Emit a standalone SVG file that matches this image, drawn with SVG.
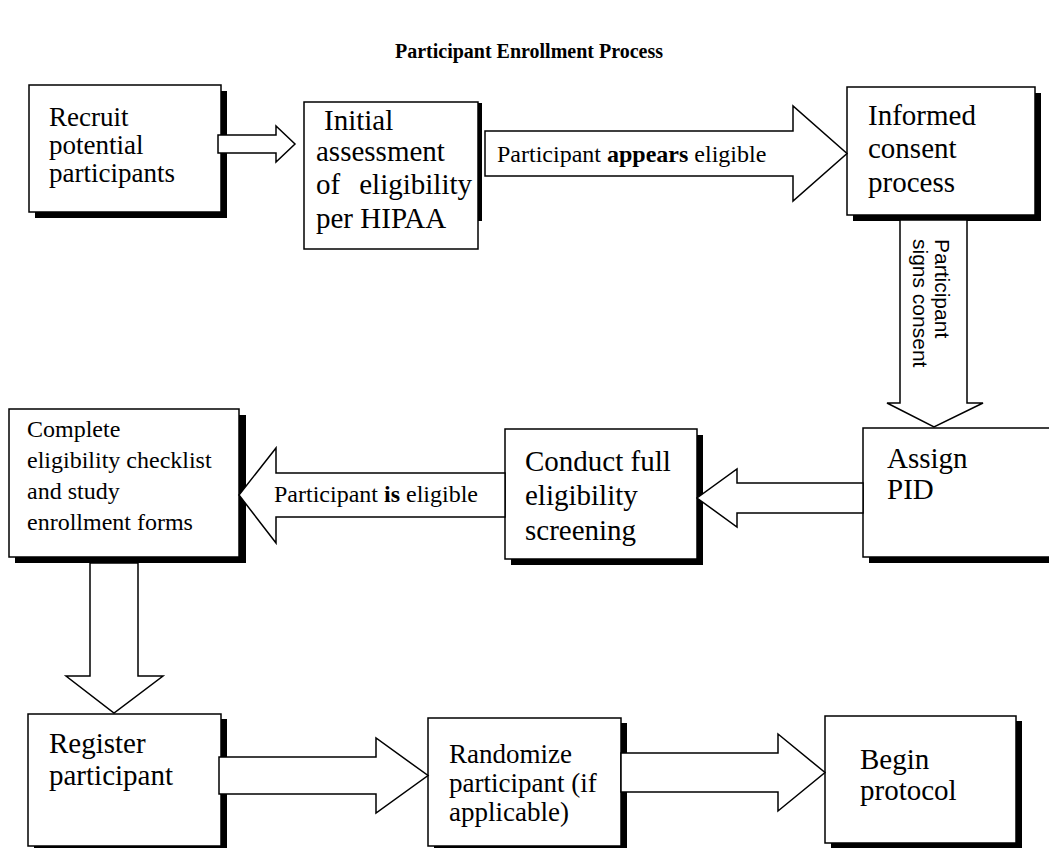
<svg xmlns="http://www.w3.org/2000/svg" width="1049" height="848" viewBox="0 0 1049 848">
<style>
.bg{fill:#fff}
.box{fill:#fff;stroke:#000;stroke-width:1.5}
.sh{fill:#000}
.arr{fill:#fff;stroke:#000;stroke-width:1.5;stroke-linejoin:miter}
.t{font-family:"Liberation Serif","Times New Roman",serif;font-size:29px;fill:#000}
.t28{font-size:27px}
.ts{font-family:"Liberation Serif","Times New Roman",serif;font-size:24px;fill:#000}
.lbl{font-family:"Liberation Serif","Times New Roman",serif;font-size:24px;fill:#000}
.vl{font-family:"Liberation Sans",Arial,sans-serif;font-size:21px;fill:#000}
.title{font-family:"Liberation Serif","Times New Roman",serif;font-size:20px;font-weight:bold;fill:#000}
.b{font-weight:bold}
</style>
<rect class="bg" x="0" y="0" width="1049" height="848"/>
<text class="title" x="529" y="58" text-anchor="middle">Participant Enrollment Process</text>

<g id="recruit">
<rect class="sh" x="35" y="91" width="192" height="127"/>
<rect class="box" x="29" y="85" width="192" height="127"/>
<text class="t t28" x="49" y="126">Recruit</text>
<text class="t t28" x="49" y="154">potential</text>
<text class="t t28" x="49" y="182">participants</text>
</g>

<g id="initial">
<rect class="sh" x="478" y="103" width="4" height="118"/>
<rect class="box" x="304" y="102" width="174" height="147"/>
<text class="t" x="324" y="130">Initial</text>
<text class="t" x="316" y="161">assessment</text>
<text class="t" x="316" y="194">of</text>
<text class="t" x="472" y="194" text-anchor="end">eligibility</text>
<text class="t" x="316" y="228">per HIPAA</text>
</g>

<g id="consent">
<rect class="sh" x="853" y="93" width="188" height="128"/>
<rect class="box" x="847" y="87" width="188" height="128"/>
<text class="t" x="868" y="125">Informed</text>
<text class="t" x="868" y="158">consent</text>
<text class="t" x="868" y="192">process</text>
</g>

<g id="assign">
<rect class="sh" x="869" y="434" width="200" height="129"/>
<rect class="box" x="863" y="428" width="200" height="129"/>
<text class="t" x="887" y="468">Assign</text>
<text class="t" x="887" y="499">PID</text>
</g>

<g id="conduct">
<rect class="sh" x="511" y="435" width="192" height="130"/>
<rect class="box" x="505" y="429" width="192" height="130"/>
<text class="t" x="525" y="471">Conduct full</text>
<text class="t" x="525" y="505">eligibility</text>
<text class="t" x="525" y="540">screening</text>
</g>

<g id="complete">
<rect class="sh" x="15" y="415" width="231" height="148"/>
<rect class="box" x="9" y="409" width="230" height="148"/>
<text class="ts" x="27" y="437">Complete</text>
<text class="ts" x="27" y="468">eligibility checklist</text>
<text class="ts" x="27" y="499">and study</text>
<text class="ts" x="27" y="530">enrollment forms</text>
</g>

<g id="register">
<rect class="sh" x="34" y="719" width="193" height="140"/>
<rect class="box" x="28" y="714" width="193" height="132"/>
<text class="t" x="49" y="753">Register</text>
<text class="t" x="49" y="785">participant</text>
</g>

<g id="randomize">
<rect class="sh" x="434" y="723" width="193" height="140"/>
<rect class="box" x="428" y="718" width="193" height="128"/>
<text class="t t28" x="449" y="763">Randomize</text>
<text class="t t28" x="449" y="792">participant (if</text>
<text class="t t28" x="449" y="821">applicable)</text>
</g>

<g id="begin">
<rect class="sh" x="831" y="721" width="191" height="127"/>
<rect class="box" x="825" y="716" width="191" height="127"/>
<text class="t" x="860" y="769">Begin</text>
<text class="t" x="860" y="800">protocol</text>
</g>

<g id="connectors">
<polygon class="arr" points="218,135 276,135 276,126 295,144 276,162 276,153 218,153"/>
<polygon class="arr" points="485,131 793,131 793,106 847,153.5 793,201 793,176 485,176"/>
<text class="lbl" x="497" y="162">Participant <tspan class="b">appears</tspan> eligible</text>
<polygon class="arr" points="900,220 967,220 967,403 983,403 934,427 887,403 900,403"/>
<text class="vl" transform="translate(935,239) rotate(90)">Participant</text>
<text class="vl" transform="translate(913,239) rotate(90)">signs consent</text>
<polygon class="arr" points="863,483 737,483 737,469 697,498 737,527 737,513 863,513"/>
<polygon class="arr" points="505,473 276,473 276,448 239,495 276,543 276,517 505,517"/>
<text class="lbl" x="274" y="502">Participant <tspan class="b">is</tspan> eligible</text>
<polygon class="arr" points="90,563 138,563 138,676 163,676 114,713 66,676 90,676"/>
<polygon class="arr" points="219,757 376,757 376,738 428,775.5 376,813 376,794 219,794"/>
<polygon class="arr" points="621,753 778,753 778,734 825,772.5 778,811 778,792 621,792"/>
</g>
</svg>
